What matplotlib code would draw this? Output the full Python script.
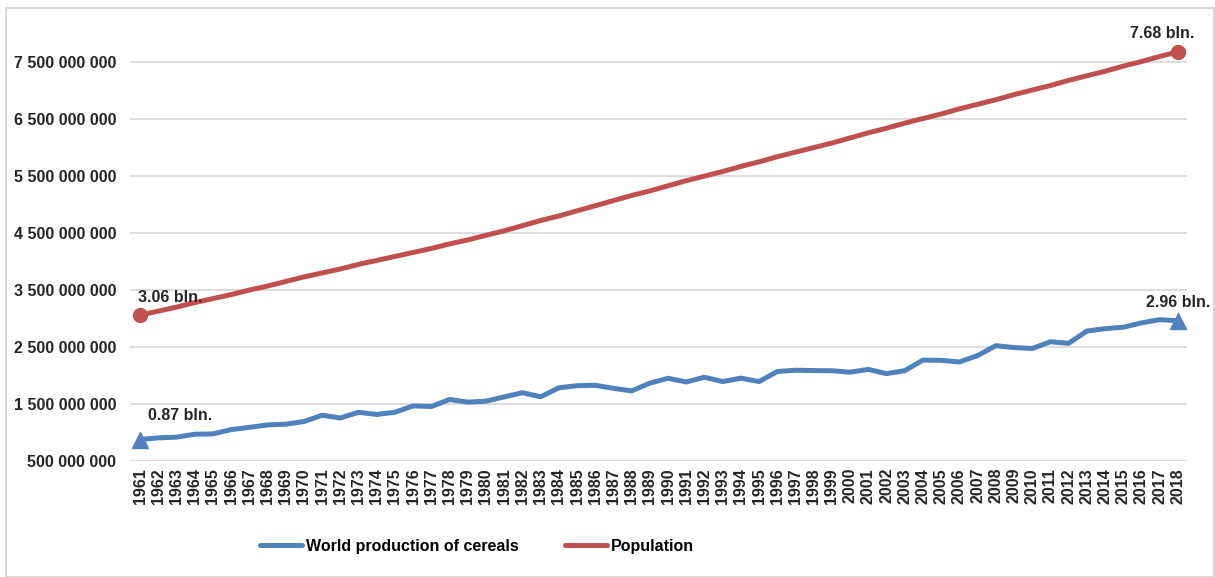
import numpy as np
import matplotlib.pyplot as plt
from matplotlib.patches import Rectangle
from matplotlib.ticker import FuncFormatter

plt.rcParams['font.family'] = ['Liberation Sans', 'DejaVu Sans']

years = list(range(1961, 2019))

# world production of cereals, billions of tonnes
cereals = [0.877, 0.906, 0.918, 0.970, 0.975, 1.051, 1.090, 1.133, 1.146, 1.192,
           1.303, 1.255, 1.355, 1.317, 1.355, 1.467, 1.456, 1.580, 1.533, 1.550,
           1.625, 1.698, 1.627, 1.784, 1.822, 1.829, 1.775, 1.730, 1.866, 1.952,
           1.887, 1.970, 1.894, 1.954, 1.894, 2.071, 2.093, 2.087, 2.084, 2.059,
           2.108, 2.033, 2.086, 2.270, 2.267, 2.238, 2.350, 2.524, 2.491, 2.474,
           2.593, 2.565, 2.781, 2.822, 2.848, 2.924, 2.980, 2.962]

# world population, billions
population = [3.06, 3.13, 3.20, 3.28, 3.35, 3.42, 3.50, 3.57, 3.65, 3.73,
              3.80, 3.87, 3.95, 4.02, 4.09, 4.16, 4.23, 4.31, 4.38, 4.46,
              4.54, 4.63, 4.72, 4.80, 4.89, 4.98, 5.07, 5.16, 5.24, 5.33,
              5.42, 5.50, 5.58, 5.67, 5.75, 5.84, 5.92, 6.00, 6.08, 6.17,
              6.26, 6.34, 6.43, 6.51, 6.59, 6.68, 6.76, 6.84, 6.93, 7.01,
              7.09, 7.18, 7.26, 7.34, 7.43, 7.51, 7.60, 7.68]

labels = ["0.87 bln.", "2.96 bln.", "3.06 bln.", "7.68 bln."]
yticks = [0.5e9, 1.5e9, 2.5e9, 3.5e9, 4.5e9, 5.5e9, 6.5e9, 7.5e9]

blue = '#4F81BD'
red = '#C0504D'
txt = '#262626'

x = np.arange(len(years))
cer = np.array(cereals) * 1e9
pop = np.array(population) * 1e9

fig = plt.figure(figsize=(12.15, 5.77), dpi=100)
ax = fig.add_axes([130 / 1215, 1 - 461 / 577, 1057 / 1215, 453 / 577])

l1, = ax.plot(x, cer, color=blue, lw=3.6, solid_capstyle='round',
              label='World production of cereals')
l2, = ax.plot(x, pop, color=red, lw=3.6, solid_capstyle='round',
              label='Population')
ax.plot([x[0], x[-1]], [cer[0], cer[-1]], '^', color=blue, ms=11, ls='none')
ax.plot([x[0], x[-1]], [pop[0], pop[-1]], 'o', color=red, ms=10, ls='none')

kw = dict(textcoords='offset points', fontsize=11.5, fontweight='bold',
          color=txt, ha='center', va='center')
ax.annotate(labels[0], (x[0], cer[0]), xytext=(29, 17), **kw)
ax.annotate(labels[1], (x[-1], cer[-1]), xytext=(0, 13), **kw)
ax.annotate(labels[2], (x[0], pop[0]), xytext=(22, 13), **kw)
ax.annotate(labels[3], (x[-1], pop[-1]), xytext=(-11, 13), **kw)

ax.set_xlim(-0.55, len(years) - 0.5)
ax.set_ylim(0.5e9, 8.45e9)
ax.set_yticks(yticks)
ax.yaxis.set_major_formatter(FuncFormatter(lambda v, p: f"{int(round(v)):,}".replace(",", " ")))
ax.set_xticks(x)
ax.set_xticklabels([str(y) for y in years], rotation=90)
ax.tick_params(axis='y', length=0, pad=10, labelsize=11.5, labelcolor=txt)
ax.tick_params(axis='x', length=0, pad=5, labelsize=11.5, labelcolor=txt)
for lab in ax.get_xticklabels() + ax.get_yticklabels():
    lab.set_fontweight('bold')
ax.grid(axis='y', color='#D9D9D9', lw=1.3)
ax.set_axisbelow(True)
for s in ax.spines.values():
    s.set_visible(False)

leg = fig.legend(handles=[l1, l2], loc='center', bbox_to_anchor=(477 / 1215, 1 - 546 / 577),
                 ncol=2, frameon=False, handlelength=2.65, handletextpad=0.25,
                 columnspacing=2.9, prop={'weight': 'bold', 'size': 11.5})
for t in leg.get_texts():
    t.set_color('black')

fig.patches.append(Rectangle((6 / 1215, 0), 1208 / 1215, 1 - 8 / 577, transform=fig.transFigure,
                             fill=False, edgecolor='#D9D9D9', lw=1.5))

fig.savefig('out.png', dpi=100)
